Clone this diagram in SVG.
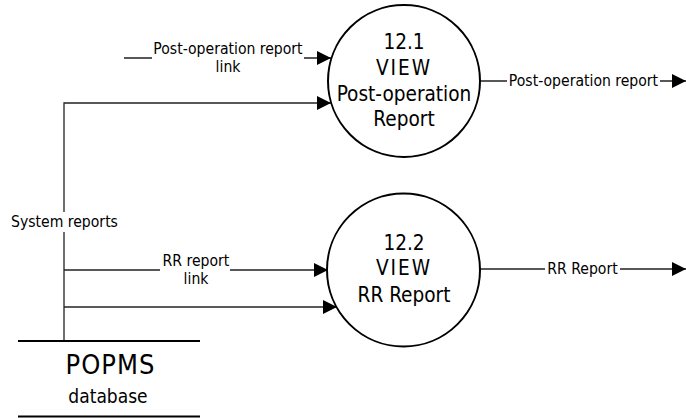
<svg xmlns="http://www.w3.org/2000/svg" width="686" height="418" viewBox="0 0 686 418">
<style>
text{font-family:"DejaVu Sans Condensed","DejaVu Sans",sans-serif;fill:#000}
.big{font-size:20.6px;text-anchor:middle}
.lbl{font-size:15.6px;text-anchor:middle}
.proc{fill:#fff;stroke:#000;stroke-width:2}
.store{stroke:#000;stroke-width:2}
.flow{fill:none;stroke:#222;stroke-width:1.3}
</style>
<defs>
<marker id="arr" markerUnits="userSpaceOnUse" markerWidth="14" markerHeight="14" refX="14" refY="7" orient="auto">
<path d="M0,0 L14,7 L0,14 z" fill="#000"/>
</marker>
</defs>
<g id="connectors">
<path class="flow" d="M124,58 H152 M304,58 H331" marker-end="url(#arr)"/>
<path class="flow" d="M64,341 V232 M64,212 V103 H331" marker-end="url(#arr)"/>
<path class="flow" d="M64,270 H160 M230,270 H328" marker-end="url(#arr)"/>
<path class="flow" d="M64,307 H337" marker-end="url(#arr)"/>
<path class="flow" d="M480,81 H507 M660,81 H686" marker-end="url(#arr)"/>
<path class="flow" d="M480,269 H545 M620,269 H686" marker-end="url(#arr)"/>
<text class="lbl" x="228" y="54.3">Post-operation report</text>
<text class="lbl" x="228" y="71.7">link</text>
<text class="lbl" x="64.5" y="226.5">System reports</text>
<text class="lbl" x="196" y="266">RR report</text>
<text class="lbl" x="196" y="283.5">link</text>
<text class="lbl" x="583.5" y="86">Post-operation report</text>
<text class="lbl" x="582.5" y="274">RR Report</text>
</g>
<g id="p12_1">
<circle class="proc" cx="404" cy="81" r="76"/>
<text class="big" x="404" y="48.5">12.1</text>
<text class="big" x="404" y="75" letter-spacing="2">VIEW</text>
<text class="big" x="404" y="100.5">Post-operation</text>
<text class="big" x="404" y="126">Report</text>
</g>
<g id="p12_2">
<circle class="proc" cx="403.5" cy="270" r="76.5"/>
<text class="big" x="404" y="250">12.2</text>
<text class="big" x="404" y="275" letter-spacing="2">VIEW</text>
<text class="big" x="404" y="302">RR Report</text>
</g>
<g id="popms_db">
<line class="store" x1="18" y1="341" x2="200" y2="341"/>
<line class="store" x1="18" y1="416.5" x2="200" y2="416.5"/>
<text x="110.5" y="374" style="font-size:27px;text-anchor:middle" letter-spacing="1">POPMS</text>
<text x="108" y="402.5" style="font-size:19px;text-anchor:middle">database</text>
</g>
</svg>
